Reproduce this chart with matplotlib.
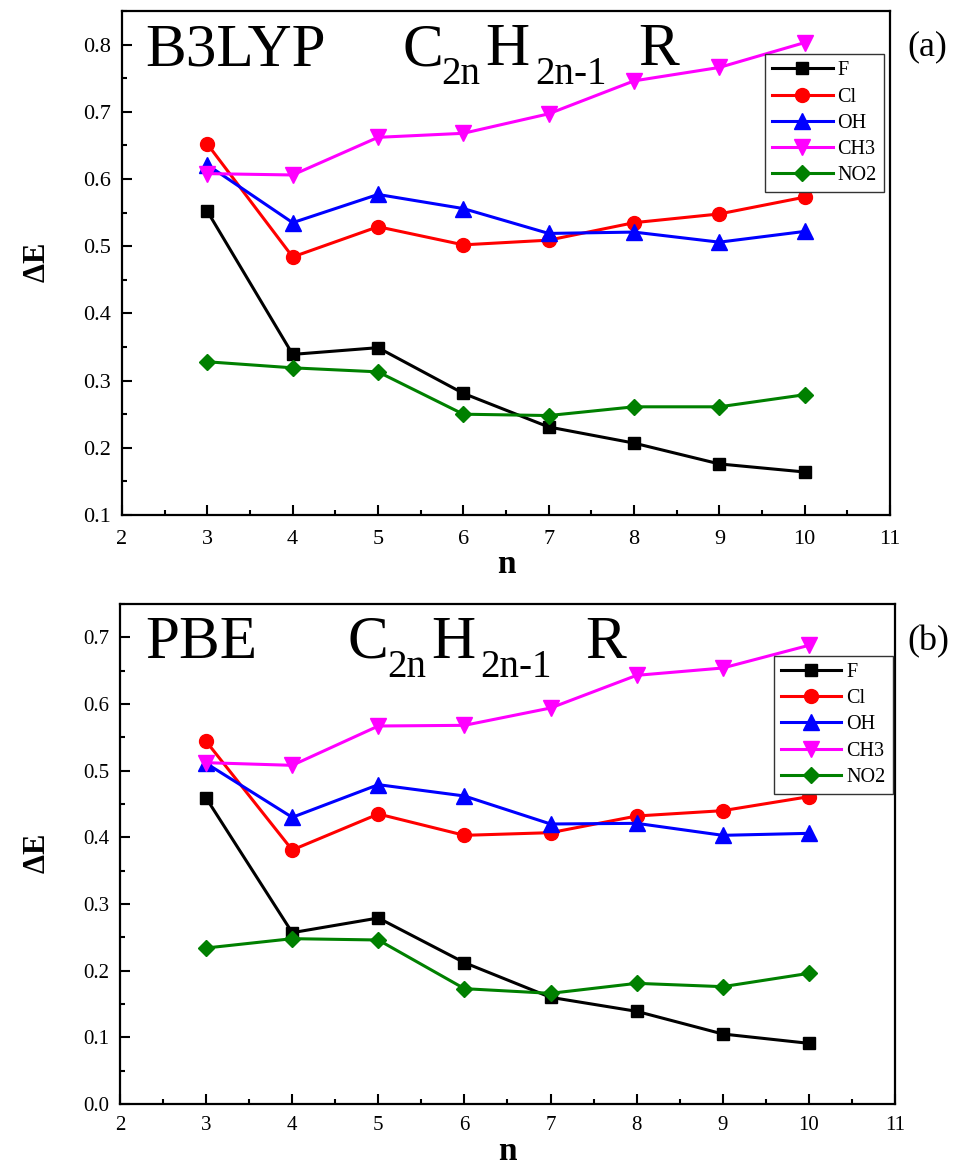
import numpy as np
import matplotlib.pyplot as plt
from matplotlib.ticker import MultipleLocator

plt.rcParams['font.family'] = ['Liberation Serif', 'DejaVu Serif']
plt.rcParams['mathtext.fontset'] = 'custom'
plt.rcParams['mathtext.rm'] = 'Liberation Serif'
plt.rcParams['mathtext.bf'] = 'Liberation Serif:bold'

n = [3, 4, 5, 6, 7, 8, 9, 10]
labels = ['F', 'Cl', 'OH', 'CH3', 'NO2']

# B3LYP values (panel a)
b3lyp_F = [0.552, 0.339, 0.349, 0.281, 0.231, 0.207, 0.176, 0.164]
b3lyp_Cl = [0.652, 0.484, 0.529, 0.502, 0.509, 0.535, 0.548, 0.573]
b3lyp_OH = [0.621, 0.535, 0.577, 0.556, 0.519, 0.521, 0.506, 0.522]
b3lyp_CH3 = [0.608, 0.606, 0.662, 0.668, 0.697, 0.746, 0.766, 0.803]
b3lyp_NO2 = [0.328, 0.319, 0.313, 0.250, 0.248, 0.261, 0.261, 0.279]

# PBE values (panel b)
pbe_F = [0.459, 0.257, 0.279, 0.212, 0.160, 0.139, 0.105, 0.091]
pbe_Cl = [0.544, 0.381, 0.435, 0.403, 0.407, 0.432, 0.440, 0.461]
pbe_OH = [0.511, 0.430, 0.479, 0.462, 0.420, 0.421, 0.403, 0.406]
pbe_CH3 = [0.512, 0.508, 0.567, 0.568, 0.594, 0.643, 0.654, 0.688]
pbe_NO2 = [0.234, 0.248, 0.246, 0.173, 0.166, 0.181, 0.176, 0.196]

colors = ['black', 'red', 'blue', 'magenta', 'green']
markers = ['s', 'o', '^', 'v', 'D']
msizes = [9, 10, 11, 11, 8]

W, H = 962, 1169
fig = plt.figure(figsize=(W / 100, H / 100), dpi=100)


def px_axes(left, top, right, bottom):
    return fig.add_axes([left / W, 1 - bottom / H, (right - left) / W, (bottom - top) / H])


def px_text(x, y, s, **kw):
    fig.text(x / W, 1 - y / H, s, va='baseline', **kw)


def draw_panel(ax, series, ylim, tick_size, legend_anchor, xpad):
    for ys, c, m, ms, lab in zip(series, colors, markers, msizes, labels):
        ax.plot(n, ys, color=c, marker=m, markersize=ms, linewidth=2.2, label=lab)
    ax.set_xlim(2, 11)
    ax.set_ylim(*ylim)
    ax.xaxis.set_major_locator(MultipleLocator(1))
    ax.xaxis.set_minor_locator(MultipleLocator(0.5))
    ax.yaxis.set_major_locator(MultipleLocator(0.1))
    ax.yaxis.set_minor_locator(MultipleLocator(0.05))
    ax.tick_params(which='both', direction='in', width=1.5, labelsize=tick_size)
    ax.tick_params(which='major', length=7)
    ax.tick_params(axis='x', which='major', pad=xpad)
    ax.tick_params(axis='y', which='major', pad=8)
    ax.tick_params(which='minor', length=3.5)
    for s in ax.spines.values():
        s.set_linewidth(1.6)
    ax.set_xlabel('n', fontsize=24, fontweight='bold', labelpad=0)
    ax.set_ylabel(r'$\mathbf{\Delta E}$', fontsize=22, labelpad=22)
    leg = ax.legend(loc='upper right', bbox_to_anchor=legend_anchor, borderaxespad=0,
                    fontsize=14.5, handlelength=3, handletextpad=0.25, labelspacing=0.35,
                    borderpad=0.35, fancybox=False, framealpha=1)
    leg.get_frame().set_edgecolor('#333333')
    leg.get_frame().set_linewidth(1.0)


ax1 = px_axes(122, 11, 890, 515)
draw_panel(ax1, [b3lyp_F, b3lyp_Cl, b3lyp_OH, b3lyp_CH3, b3lyp_NO2],
           (0.1, 0.85), 16, (0.992, 0.914), 11)

ax2 = px_axes(120, 604, 895, 1104)
draw_panel(ax2, [pbe_F, pbe_Cl, pbe_OH, pbe_CH3, pbe_NO2],
           (0.0, 0.75), 15, (0.997, 0.896), 9)

# panel titles: formula drawn piece by piece so the subscripts sit low
big, small = 44, 28
px_text(145, 65, 'B3LYP', fontsize=big)
px_text(403, 65, 'C', fontsize=big)
px_text(441, 84, '2n', fontsize=small)
px_text(485, 65, 'H', fontsize=big)
px_text(535, 84, '2n-1', fontsize=small)
px_text(638, 65, 'R', fontsize=big)

px_text(145, 658, 'PBE', fontsize=big)
px_text(348, 658, 'C', fontsize=big)
px_text(387, 677, '2n', fontsize=small)
px_text(431, 658, 'H', fontsize=big)
px_text(480, 677, '2n-1', fontsize=small)
px_text(585, 658, 'R', fontsize=big)

fig.text(927 / W, 1 - 47 / H, '(a)', fontsize=26, ha='center', va='center')
fig.text(928 / W, 1 - 642 / H, '(b)', fontsize=26, ha='center', va='center')

plt.savefig('out.png', dpi=100)
